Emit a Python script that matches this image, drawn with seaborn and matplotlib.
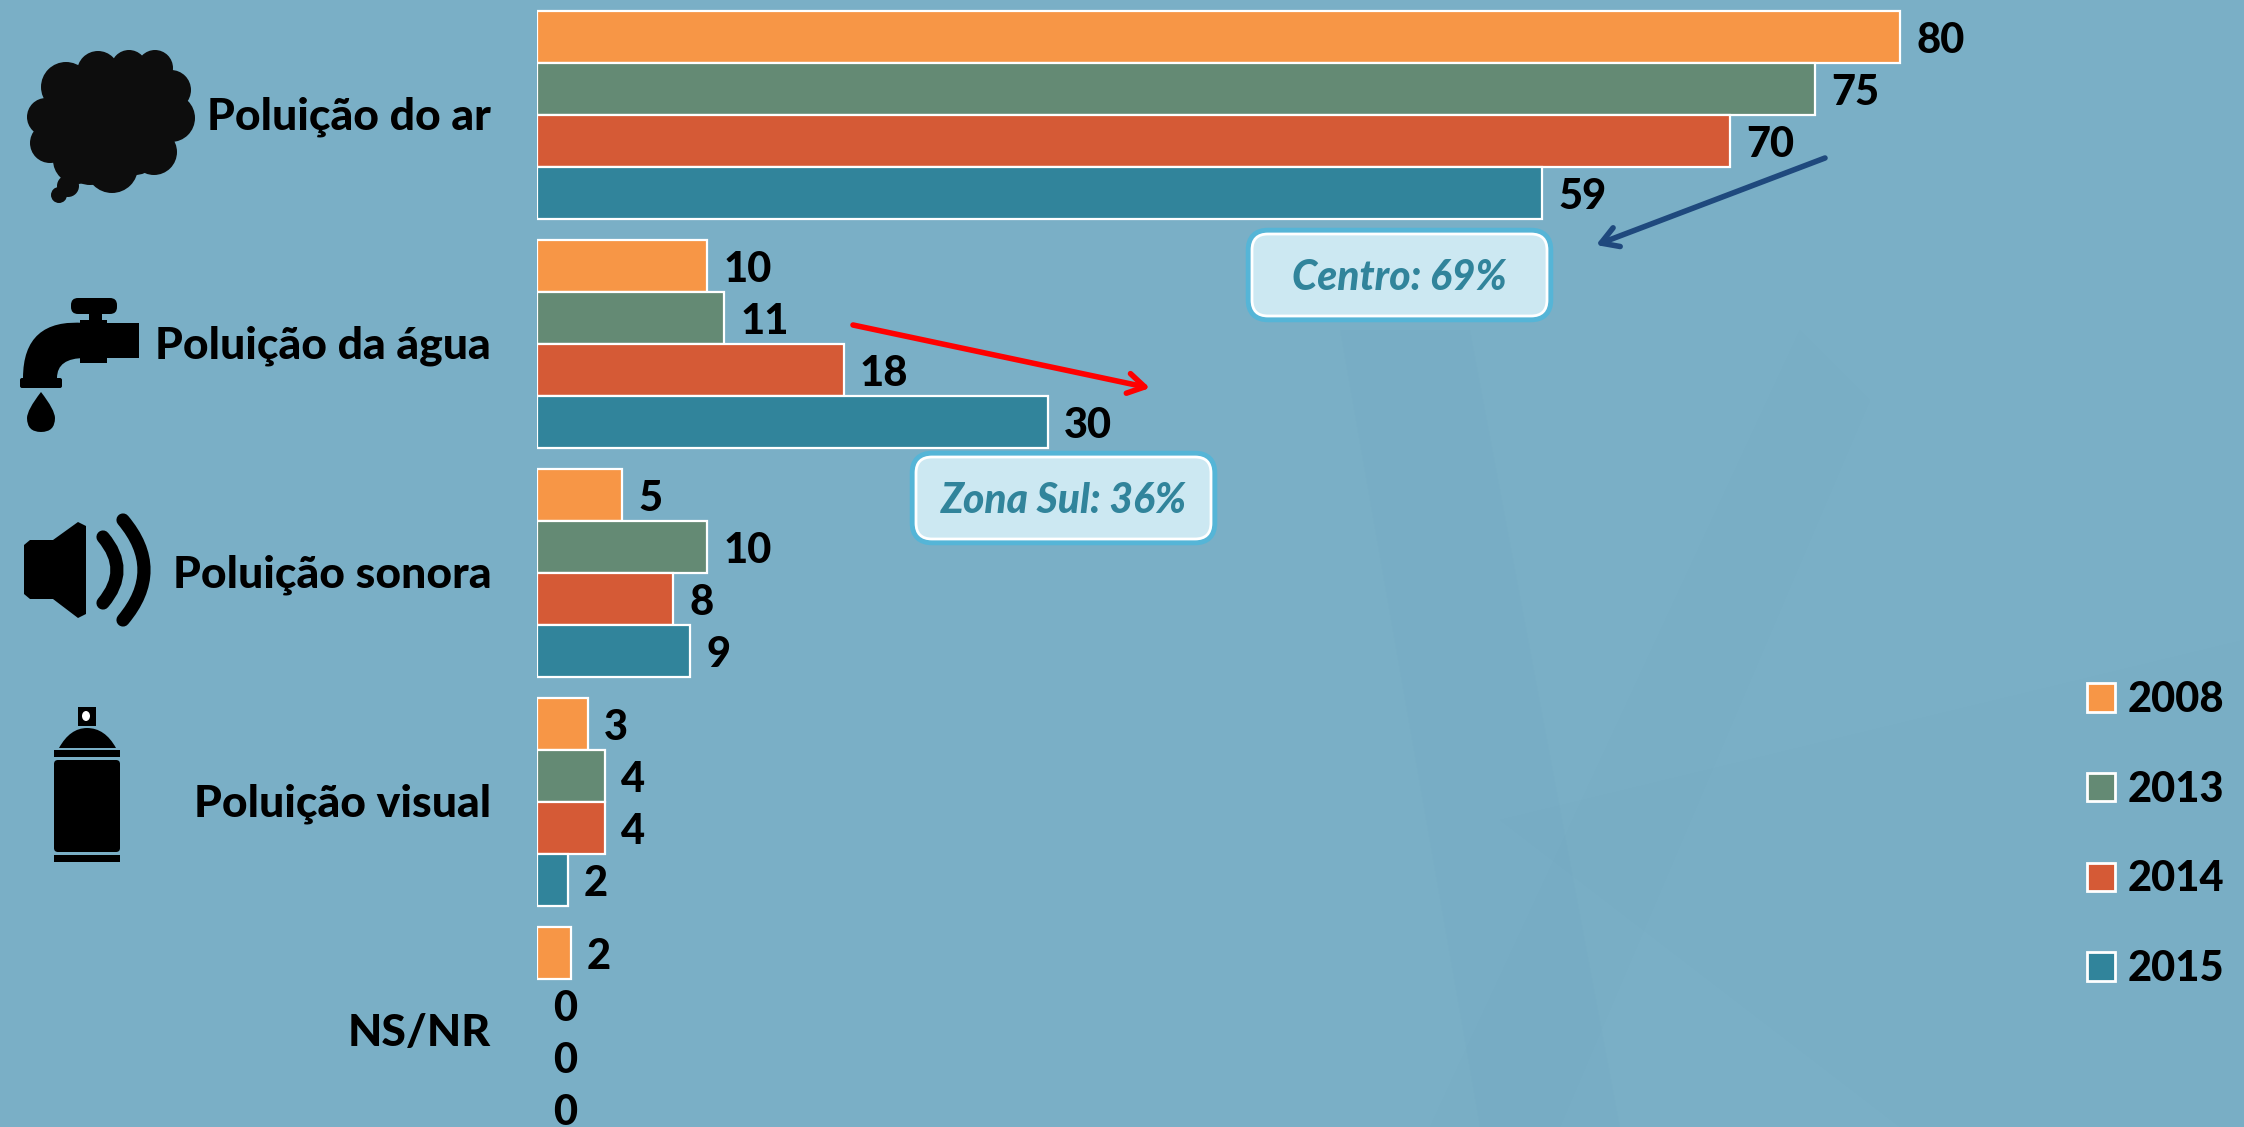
import numpy as np
import pandas as pd
import matplotlib
matplotlib.use('Agg')
import matplotlib.pyplot as plt
import seaborn as sns
from matplotlib.patches import Circle, Rectangle, Polygon, Ellipse, FancyBboxPatch, PathPatch
from matplotlib.path import Path
from matplotlib.transforms import ScaledTranslation

# Data
categorias = ['Poluição do ar', 'Poluição da água', 'Poluição sonora', 'Poluição visual', 'NS/NR']
anos = ['2008', '2013', '2014', '2015']
v2008 = [80, 10, 5, 3, 2]
v2013 = [75, 11, 10, 4, 0]
v2014 = [70, 18, 8, 4, 0]
v2015 = [59, 30, 9, 1.8, 0]
cores = ['#F79646', '#648A74', '#D55A36', '#31849B']

df = pd.DataFrame({'categoria': categorias, '2008': v2008, '2013': v2013, '2014': v2014, '2015': v2015})
df = df.melt(id_vars='categoria', var_name='ano', value_name='valor')

W, H = 2244, 1127
FUNDO = '#7AAFC6'
FONTE = 'Lato'
PRETO = '#000000'
PESO = 'black'

sns.set_theme(style='white')
plt.rcParams['font.family'] = [FONTE, 'DejaVu Sans']

fig = plt.figure(figsize=(W / 100, H / 100), dpi=100, facecolor=FUNDO)

# Faint shapes in the slide background
bg = fig.add_axes([0, 0, 1, 1], zorder=0)
bg.set_xlim(0, W)
bg.set_ylim(H, 0)
bg.axis('off')
bg.add_patch(Polygon([(1340, 330), (1470, 330), (1620, H), (1480, H)], color='#6FA5C0', alpha=0.10, lw=0))
bg.add_patch(Polygon([(1800, 330), (1870, 400), (1560, H), (1430, H)], color='#6FA5C0', alpha=0.08, lw=0))
bg.add_patch(Polygon([(1500, 820), (2244, 640), (2244, H), (1900, H)], color='#6FA5C0', alpha=0.05, lw=0))

# Bars
ax = fig.add_axes([537 / W, 0, (W - 537) / W, 1], zorder=1)
ax.patch.set_alpha(0)
sns.barplot(data=df, y='categoria', x='valor', hue='ano', hue_order=anos, palette=cores, saturation=1,
            width=0.908, edgecolor='white', linewidth=1.6, errorbar=None, ax=ax)
ax.set_xlim(0, (W - 537) / 17.04)
ax.set_ylim((H - 115) / 229, -115 / 229)
ax.set_xlabel('')
ax.set_ylabel('')
ax.set_xticks([])
sns.despine(ax=ax, left=True, bottom=True)
ax.tick_params(axis='y', length=0, pad=33)
for t in ax.get_yticklabels():
    t.set_fontsize(32)
    t.set_fontweight(PESO)
    t.set_color(PRETO)
    t.set_fontfamily([FONTE, 'DejaVu Sans'])
    t.set_transform(t.get_transform() + ScaledTranslation(0, 2 / 100, fig.dpi_scale_trans))

for c in ax.containers:
    rotulos = ax.bar_label(c, fmt='%.0f', padding=11.5, fontsize=30, fontweight=PESO, color=PRETO)
    for r in rotulos:
        r.xyann = (r.xyann[0], r.xyann[1] - 2.6)
# zero bars have no outline in the original
for p in ax.patches:
    if p.get_width() == 0:
        p.set_visible(False)

# Legend on the right
sns.move_legend(ax, 'upper left', bbox_to_anchor=(2087 / W, 1 - 681 / H), bbox_transform=fig.transFigure,
                frameon=False, title=None, fontsize=30, labelspacing=1.24, handlelength=0.67, handleheight=0.67,
                handletextpad=0.3, borderpad=0, borderaxespad=0)
leg = ax.get_legend()
for h in leg.legend_handles:
    h.set_edgecolor('white')
    h.set_linewidth(2)
for t in leg.get_texts():
    t.set_fontweight(PESO)
    t.set_color(PRETO)

# Overlay in pixel coordinates for icons and callouts
ov = fig.add_axes([0, 0, 1, 1], zorder=2)
ov.set_xlim(0, W)
ov.set_ylim(H, 0)
ov.axis('off')
ov.patch.set_alpha(0)

# Cloud icon
nuvem = [(110, 120, 56), (66, 87, 25), (98, 72, 21), (129, 68, 18), (155, 68, 18), (171, 90, 20),
         (171, 118, 24), (154, 152, 23), (112, 167, 26), (77, 160, 24), (50, 143, 20), (46, 117, 19),
         (135, 150, 25), (90, 160, 25), (60, 125, 25), (68, 186, 11), (59, 195, 8)]
for x, y, r in nuvem:
    ov.add_patch(Circle((x, y), r, color='#0D0D0D', lw=0))

# Faucet icon
ov.add_patch(FancyBboxPatch((75, 302), 38, 8, boxstyle='round,pad=4,rounding_size=7', color='black', lw=0))
ov.add_patch(Rectangle((89, 313), 13, 12, color='black', lw=0))
ov.add_patch(Rectangle((80, 320), 27, 43, color='black', lw=0))
ov.add_patch(Rectangle((80, 323), 59, 35, color='black', lw=0))
cano = Path([(85, 323), (23, 318), (23, 378), (23, 378), (57, 378), (57, 378), (57, 358), (85, 358), (85, 358), (85, 323)],
            [Path.MOVETO, Path.CURVE3, Path.CURVE3, Path.LINETO, Path.LINETO, Path.LINETO, Path.CURVE3, Path.CURVE3, Path.LINETO, Path.LINETO])
ov.add_patch(PathPatch(cano, color='black', lw=0))
ov.add_patch(FancyBboxPatch((21, 379), 40, 8, boxstyle='round,pad=1,rounding_size=2', color='black', lw=0))
gota = Path([(41, 392), (27, 410), (27, 418), (27, 432), (41, 432), (55, 432), (55, 418), (55, 410), (41, 392)],
            [Path.MOVETO, Path.CURVE3, Path.CURVE3, Path.CURVE3, Path.CURVE3, Path.CURVE3, Path.CURVE3, Path.CURVE3, Path.CURVE3])
ov.add_patch(PathPatch(gota, color='black', lw=0))

# Speaker icon
ov.add_patch(Polygon([(24, 545), (30, 540), (53, 540), (78, 522), (86, 526), (86, 614), (78, 618), (53, 599), (30, 599), (24, 594)],
                     color='black', lw=0))
for p0, p1, p2 in [((103, 537), (131, 570), (103, 603)), ((123, 520), (165, 570), (123, 620))]:
    ov.add_patch(PathPatch(Path([p0, p1, p2], [Path.MOVETO, Path.CURVE3, Path.CURVE3]), fc='none', ec='black', lw=9.5, capstyle='round'))

# Spray can icon
ov.add_patch(Rectangle((78, 707), 18, 19, color='black', lw=0))
ov.add_patch(Ellipse((86, 716), 8, 10, color='white', lw=0))
dome = Path([(59, 748), (70, 728), (87, 728), (105, 728), (116, 748), (59, 748)],
            [Path.MOVETO, Path.CURVE3, Path.CURVE3, Path.CURVE3, Path.CURVE3, Path.LINETO])
ov.add_patch(PathPatch(dome, color='black', lw=0))
ov.add_patch(Rectangle((54, 750), 66, 7, color='black', lw=0))
ov.add_patch(FancyBboxPatch((56, 762), 62, 88, boxstyle='round,pad=2,rounding_size=4', color='black', lw=0))
ov.add_patch(Rectangle((54, 855), 66, 7, color='black', lw=0))

# Callouts
for x0, x1, y0, y1, txt in [(1252, 1547, 234, 316, 'Centro: 69%'), (916, 1211, 457, 539, 'Zona Sul: 36%')]:
    est = 'round,pad=0,rounding_size=16'
    ov.add_patch(FancyBboxPatch((x0, y0), x1 - x0, y1 - y0, boxstyle=est, fc='#CCE8F2', ec='#55B5D7', lw=9))
    ov.add_patch(FancyBboxPatch((x0, y0), x1 - x0, y1 - y0, boxstyle=est, fc='#CCE8F2', ec='white', lw=2))
    ov.text((x0 + x1) / 2, (y0 + y1) / 2 + 3, txt, ha='center', va='center', fontsize=29.3, fontweight=PESO,
            fontstyle='italic', color='#31849B')

# Trend arrows
ov.annotate('', xy=(1596, 245), xytext=(1825, 158),
            arrowprops=dict(arrowstyle='->,head_length=1.0,head_width=0.6', color='#1F497D', lw=4, shrinkA=0, shrinkB=0))
ov.annotate('', xy=(1150, 388), xytext=(853, 325),
            arrowprops=dict(arrowstyle='->,head_length=1.0,head_width=0.6', color='#FF0000', lw=4, shrinkA=0, shrinkB=0))

fig.savefig('out.png', dpi=100, facecolor=FUNDO)
